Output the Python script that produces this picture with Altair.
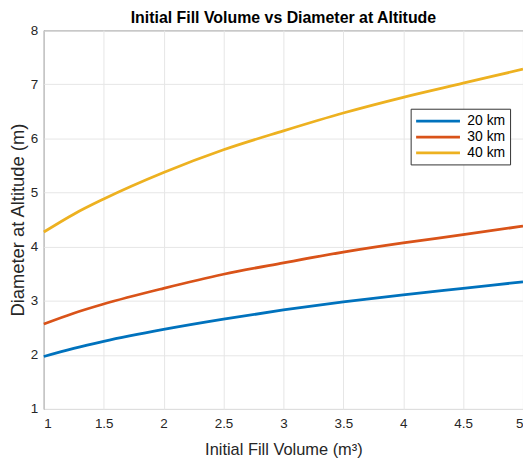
import altair as alt
import pandas as pd

volumes = [1.0, 1.25, 1.5, 2.0, 2.5, 3.0, 3.5, 4.0, 4.5, 5.0]
d20 = [1.97, 2.12, 2.25, 2.47, 2.66, 2.83, 2.98, 3.11, 3.23, 3.35]
d30 = [2.57, 2.77, 2.94, 3.23, 3.49, 3.70, 3.90, 4.07, 4.22, 4.38]
d40 = [4.27, 4.60, 4.88, 5.37, 5.79, 6.14, 6.47, 6.76, 7.02, 7.28]
series = ["20 km", "30 km", "40 km"]
colors = ["#0072BD", "#D95319", "#EDB120"]
x_ticks = [1, 1.5, 2, 2.5, 3, 3.5, 4, 4.5, 5]
y_ticks = [1, 2, 3, 4, 5, 6, 7, 8]

rows = []
for name, vals in zip(series, [d20, d30, d40]):
    for v, d in zip(volumes, vals):
        rows.append({"volume": v, "diameter": d, "altitude": name})
df = pd.DataFrame(rows)

FONT = "Liberation Sans"

chart = alt.Chart(df).mark_line(strokeWidth=2.8, interpolate="monotone").encode(
    x=alt.X("volume:Q",
            scale=alt.Scale(domain=[1, 5], nice=False, zero=False),
            axis=alt.Axis(values=x_ticks, format="~g", title="Initial Fill Volume (m³)",
                          titlePadding=11, titleFontSize=16.5)),
    y=alt.Y("diameter:Q",
            scale=alt.Scale(domain=[1, 8], nice=False, zero=False),
            axis=alt.Axis(values=y_ticks, format="~g", title="Diameter at Altitude (m)",
                          titlePadding=3, titleFontSize=18.5)),
    color=alt.Color("altitude:N",
                    scale=alt.Scale(domain=series, range=colors),
                    legend=alt.Legend(title=None, orient="none", legendX=369, legendY=79,
                                      symbolType="M-1,0H5.3", symbolSize=196,
                                      symbolStrokeWidth=2.8, labelFontSize=14,
                                      labelFont=FONT, labelColor="#000000",
                                      strokeColor="#333333", fillColor="#ffffff",
                                      padding=4, rowPadding=0, labelOffset=36,
                                      cornerRadius=0)),
).properties(
    width=482,
    height=381,
    title=alt.Title("Initial Fill Volume vs Diameter at Altitude", fontSize=16,
                    font=FONT, fontWeight="bold", color="#000000", offset=-3),
    autosize=alt.AutoSizeParams(type="none"),
    padding={"left": 36, "top": 21, "right": 0, "bottom": 52},
).configure_view(
    stroke="#262626", strokeWidth=1
).configure_axis(
    grid=True, gridColor="#e6e6e6", gridWidth=1,
    domain=False, ticks=False,
    labelFont=FONT, labelFontSize=13.5, labelColor="#262626", labelPadding=6,
    titleFont=FONT, titleColor="#262626", titleFontWeight="normal",
).configure_axisX(labelPadding=8)

chart.save("out.html", embed_options={"renderer": "svg", "actions": False})
